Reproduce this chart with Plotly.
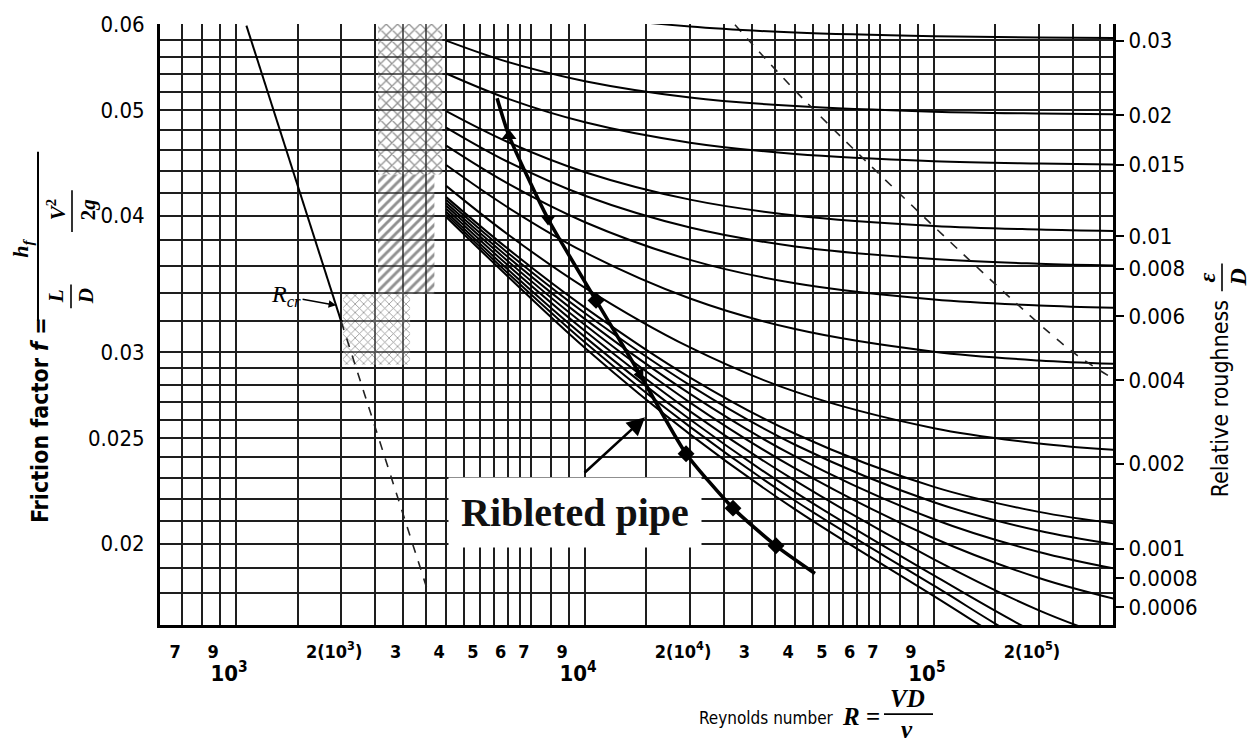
import math
import plotly.graph_objects as go

# ---------------- values ----------------
# Reynolds numbers at which the turbulent curves were read
RE_TURB = [4000, 6000, 10000, 20000, 40000, 100000, 200000, 350000]

# friction factor of each relative-roughness curve at RE_TURB
F_ED_0030 = [0.06516, 0.06300, 0.06114, 0.05967, 0.05892, 0.05846, 0.05830, 0.05823]
F_ED_0020 = [0.05793, 0.05538, 0.05317, 0.05137, 0.05044, 0.04985, 0.04966, 0.04958]
F_ED_0015 = [0.05404, 0.05124, 0.04874, 0.04669, 0.04559, 0.04490, 0.04467, 0.04456]
F_ED_0010 = [0.04990, 0.04675, 0.04386, 0.04139, 0.04003, 0.03915, 0.03886, 0.03873]
F_ED_0008 = [0.04820, 0.04484, 0.04173, 0.03902, 0.03749, 0.03650, 0.03615, 0.03600]
F_ED_0006 = [0.04639, 0.04283, 0.03946, 0.03644, 0.03468, 0.03351, 0.03309, 0.03291]
F_ED_0004 = [0.04453, 0.04073, 0.03702, 0.03358, 0.03148, 0.03001, 0.02946, 0.02923]
F_ED_0002 = [0.04261, 0.03847, 0.03435, 0.03028, 0.02758, 0.02553, 0.02472, 0.02435]
F_ED_0001 = [0.04161, 0.03732, 0.03294, 0.02841, 0.02523, 0.02255, 0.02139, 0.02082]
F_ED_00008 = [0.04135, 0.03700, 0.03255, 0.02795, 0.02465, 0.02183, 0.02055, 0.01991]
F_ED_00006 = [0.04110, 0.03668, 0.03215, 0.02745, 0.02405, 0.02106, 0.01965, 0.01890]
F_ED_00004 = [0.04085, 0.03636, 0.03175, 0.02695, 0.02345, 0.02023, 0.01860, 0.01771]
F_ED_00002 = [0.04060, 0.03604, 0.03135, 0.02645, 0.02285, 0.01935, 0.01737, 0.01623]
F_ED_00001 = [0.04035, 0.03572, 0.03095, 0.02600, 0.02230, 0.01870, 0.01650, 0.01520]
F_ED_000005 = [0.04012, 0.03545, 0.03060, 0.02560, 0.02190, 0.01830, 0.01600, 0.01470]
F_SMOOTH = [0.03990, 0.03520, 0.03025, 0.02520, 0.02150, 0.01790, 0.01560, 0.01420]

# laminar line (solid) and its dashed continuation
RE_LAMINAR = [1070, 2000]
F_LAMINAR = [0.0598, 0.0320]
RE_LAMINAR_DASH = [2000, 3560]
F_LAMINAR_DASH = [0.0320, 0.0180]

# dashed limit of the rough (complete turbulence) zone
RE_ROUGH_LIMIT = [26900, 43250, 172900, 256800, 323600]
F_ROUGH_LIMIT = [0.0599, 0.0508, 0.0332, 0.0298, 0.0284]

# ribleted pipe line and its measured points
RE_RIBLET = [5596, 6055, 7834, 10753, 14380, 19480, 26550, 35270, 45600]
F_RIBLET = [0.05128, 0.04737, 0.03973, 0.03345, 0.02860, 0.02419, 0.02156, 0.01991, 0.01878]
RE_RIBLET_PTS = [6055, 7834, 10753, 14380, 19480, 26550, 35270]
F_RIBLET_PTS = [0.04737, 0.03973, 0.03345, 0.02860, 0.02419, 0.02156, 0.01991]
RIBLET_SYMBOLS = ["triangle-up", "triangle-down", "diamond", "triangle-left", "diamond", "diamond", "diamond"]

# hatched critical zone (Re range, f range)
RE_ZONE_TOP = [2552, 3900]
F_ZONE_TOP = [0.04365, 0.0600]
RE_ZONE_MID = [2552, 3700]
F_ZONE_MID = [0.0339, 0.04365]
RE_ZONE_LOW = [2026, 3152]
F_ZONE_LOW = [0.0292, 0.0339]

# axes
X_RANGE = [605, 326000]
Y_RANGE = [0.01684, 0.0600]
X_TICK_VALS = [700, 900, 1000, 2000, 3000, 4000, 5000, 6000, 7000, 9000, 10000,
               20000, 30000, 40000, 50000, 60000, 70000, 90000, 100000, 200000]
X_TICK_TEXT = ["7", "9", "<br><span style='font-size:22px'>10<sup>3</sup></span>", "2(10<sup>3</sup>)",
               "3", "4", "5", "6", "7", "9", "<br><span style='font-size:22px'>10<sup>4</sup></span>",
               "2(10<sup>4</sup>)", "3", "4", "5", "6", "7", "9",
               "<br><span style='font-size:22px'>10<sup>5</sup></span>", "2(10<sup>5</sup>)"]
X_GRID_VALS = [700, 800, 900, 1000, 1500, 2000, 2500, 3000, 3500, 4000, 4500, 5000, 5500,
               6000, 6500, 7000, 8000, 9000, 10000, 15000, 20000, 25000, 30000, 35000, 40000,
               45000, 50000, 55000, 60000, 65000, 70000, 80000, 90000, 100000, 150000,
               200000, 250000, 300000]
Y_TICK_VALS = [0.02, 0.025, 0.03, 0.04, 0.05, 0.06]
Y_TICK_TEXT = ["0.02", "0.025", "0.03", "0.04", "0.05", "0.06"]
Y_GRID_VALS = [0.018, 0.019, 0.020, 0.021, 0.022, 0.023, 0.024, 0.025, 0.026, 0.027, 0.028,
               0.029, 0.030, 0.032, 0.034, 0.036, 0.038, 0.040, 0.042, 0.044, 0.046, 0.048,
               0.050, 0.052, 0.054, 0.056, 0.058]
ROUGH_TICK_F = [0.05791, 0.04950, 0.04457, 0.03834, 0.03577, 0.03236, 0.02824, 0.02369,
                0.01979, 0.01858, 0.01749]
ROUGH_TICK_TEXT = ["0.03", "0.02", "0.015", "0.01", "0.008", "0.006", "0.004", "0.002",
                   "0.001", "0.0008", "0.0006"]

CURVES = [F_ED_0030, F_ED_0020, F_ED_0015, F_ED_0010, F_ED_0008, F_ED_0006, F_ED_0004,
          F_ED_0002, F_ED_0001, F_ED_00008, F_ED_00006, F_ED_00004, F_ED_00002,
          F_ED_00001, F_ED_000005, F_SMOOTH]

# ---------------- figure ----------------
W, H = 1256, 742
ML, MR, MT, MB = 160, 143, 18, 117
PW, PH = W - ML - MR, H - MT - MB

NARROW = "DejaVu Sans Condensed, Liberation Sans Narrow, Arial Narrow, sans-serif"
SERIF = "Liberation Serif, DejaVu Serif, serif"


def px(x):
    return (x - ML) / PW


def py(y):
    return (H - MB - y) / PH


fig = go.Figure()

# hatched transition zone
for rx, fy, shape, size, sol in [(RE_ZONE_TOP, F_ZONE_TOP, "x", 8, 0.3),
                                 (RE_ZONE_MID, F_ZONE_MID, "/", 7, 0.42),
                                 (RE_ZONE_LOW, F_ZONE_LOW, "x", 6, 0.25)]:
    fig.add_trace(go.Scatter(
        x=[rx[0], rx[1], rx[1], rx[0], rx[0]],
        y=[fy[0], fy[0], fy[1], fy[1], fy[0]],
        mode="lines", line=dict(width=0), fill="toself",
        fillcolor="rgba(0,0,0,0)",
        fillpattern=dict(shape=shape, fgcolor="#222", bgcolor="rgba(255,255,255,0.3)",
                         size=size, solidity=sol),
        hoverinfo="skip", showlegend=False))

# roughness curves
for i, fv in enumerate(CURVES):
    fig.add_trace(go.Scatter(
        x=RE_TURB, y=fv, mode="lines", line=dict(color="black", width=2.0, shape="spline"),
        yaxis="y2" if i == 0 else "y", showlegend=False, hoverinfo="skip"))

# laminar
fig.add_trace(go.Scatter(x=RE_LAMINAR, y=F_LAMINAR, mode="lines",
                         line=dict(color="black", width=2), showlegend=False))
fig.add_trace(go.Scatter(x=RE_LAMINAR_DASH, y=F_LAMINAR_DASH, mode="lines",
                         line=dict(color="#222", width=1.6, dash="dash"), showlegend=False))
# rough-zone limit
fig.add_trace(go.Scatter(x=RE_ROUGH_LIMIT, y=F_ROUGH_LIMIT, mode="lines",
                         line=dict(color="#222", width=1.6, dash="dash", shape="spline"),
                         showlegend=False))
# ribleted pipe
fig.add_trace(go.Scatter(x=RE_RIBLET, y=F_RIBLET, mode="lines",
                         line=dict(color="black", width=3.6, shape="spline", smoothing=0.6),
                         showlegend=False))
fig.add_trace(go.Scatter(x=RE_RIBLET_PTS, y=F_RIBLET_PTS, mode="markers",
                         marker=dict(color="black", size=13, symbol=RIBLET_SYMBOLS),
                         showlegend=False))

grid = dict(showgrid=True, gridcolor="#1e1e1e", gridwidth=2, ticks="")

fig.update_layout(
    width=W, height=H,
    margin=dict(l=ML, r=MR, t=MT, b=MB),
    paper_bgcolor="white", plot_bgcolor="white",
    showlegend=False,
    xaxis=dict(type="log", range=[math.log10(X_RANGE[0]), math.log10(X_RANGE[1])],
               tickmode="array", tickvals=X_TICK_VALS, ticktext=X_TICK_TEXT, tickangle=0,
               showgrid=False, ticks="", ticklabelshift=-7, ticklabelstandoff=8,
               minor=dict(tickmode="array", tickvals=X_GRID_VALS, **grid),
               showline=True, linecolor="black", linewidth=3,
               tickfont=dict(family=NARROW, size=18, color="black", weight="bold"),
               zeroline=False),
    yaxis=dict(type="log", range=[math.log10(Y_RANGE[0]), math.log10(Y_RANGE[1])],
               tickmode="array", tickvals=Y_TICK_VALS, ticktext=Y_TICK_TEXT,
               showgrid=False, ticks="", ticklabelstandoff=8,
               minor=dict(tickmode="array", tickvals=Y_GRID_VALS, **grid),
               showline=True, linecolor="black", linewidth=3,
               tickfont=dict(family=NARROW, size=22, color="black"),
               zeroline=False),
    yaxis2=dict(type="log", range=[math.log10(Y_RANGE[0]), math.log10(Y_RANGE[1])],
                overlaying="y", side="right", anchor="x",
                tickmode="array", tickvals=ROUGH_TICK_F, ticktext=ROUGH_TICK_TEXT,
                showgrid=False, ticks="outside", ticklen=8, tickwidth=2, tickcolor="black",
                showline=True, linecolor="black", linewidth=3,
                tickfont=dict(family=NARROW, size=22, color="black"),
                zeroline=False),
)


def label(xp, yp, text, family, size, angle=0, weight="normal", xanchor="center"):
    return dict(xref="paper", yref="paper", x=px(xp), y=py(yp), text=text, textangle=angle,
                showarrow=False, xanchor=xanchor, yanchor="middle",
                font=dict(family=family, size=size, color="black", weight=weight))


ann = []
# Ribleted pipe label on white box
ann.append(dict(xref="paper", yref="paper", x=px(575), y=py(511), text="<b>Ribleted pipe</b>",
                showarrow=False, font=dict(family=SERIF, size=40, color="#111"),
                bgcolor="white", borderpad=12, xanchor="center", yanchor="middle"))
# arrow to the ribleted line
ann.append(dict(x=math.log10(14860), y=math.log10(0.02613), xref="x", yref="y", text="",
                showarrow=True, ax=-62, ay=57, arrowhead=2, arrowsize=1.4, arrowwidth=2.6,
                arrowcolor="black"))
# R_cr
ann.append(dict(x=math.log10(1934), y=math.log10(0.0331), xref="x", yref="y",
                text="<i>R<sub>cr</sub></i>", showarrow=True, ax=-50, ay=-9,
                arrowhead=2, arrowsize=1, arrowwidth=1.5, arrowcolor="black",
                font=dict(family=SERIF, size=24, color="black")))
# left axis title
ann.append(label(40, 418, "Friction factor <i>f</i> =", NARROW, 23, -90, "bold"))
ann.append(label(22, 245, "<i>h<sub>f</sub></i>", SERIF, 22, -90, "bold"))
ann.append(label(56, 293, "<i>L</i>", SERIF, 21, -90, "bold"))
ann.append(label(86, 293, "<i>D</i>", SERIF, 21, -90, "bold"))
ann.append(label(56, 206, "<i>V</i><sup>2</sup>", SERIF, 21, -90, "bold"))
ann.append(label(88, 206, "2<i>g</i>", SERIF, 21, -90, "bold"))
# right axis title
ann.append(label(1220, 397, "Relative roughness", NARROW, 23, -90))
ann.append(label(1207, 274, "<i>ε</i>", SERIF, 24, -90, "bold"))
ann.append(label(1238, 274, "<i>D</i>", SERIF, 24, -90, "bold"))
# bottom axis title
ann.append(label(836, 719, "Reynolds number", NARROW, 17, 0, "normal", "right"))
ann.append(label(861, 717, "<i>R</i> =", SERIF, 25, 0, "bold"))
ann.append(label(907, 699, "<i>VD</i>", SERIF, 25, 0, "bold"))
ann.append(label(907, 731, "<i>ν</i>", SERIF, 25, 0, "bold"))
fig.update_layout(annotations=ann)

shapes = [
    dict(type="line", xref="paper", yref="paper", x0=px(38), x1=px(38), y0=py(147), y1=py(318),
         line=dict(color="black", width=2)),
    dict(type="line", xref="paper", yref="paper", x0=px(71), x1=px(71), y0=py(281), y1=py(305),
         line=dict(color="black", width=1.6)),
    dict(type="line", xref="paper", yref="paper", x0=px(72), x1=px(72), y0=py(186), y1=py(228),
         line=dict(color="black", width=1.6)),
    dict(type="line", xref="paper", yref="paper", x0=px(1222), x1=px(1222), y0=py(260), y1=py(288),
         line=dict(color="black", width=1.6)),
    dict(type="line", xref="paper", yref="paper", x0=px(884), x1=px(933), y0=py(715), y1=py(715),
         line=dict(color="black", width=1.6)),
]
fig.update_layout(shapes=shapes)

fig.write_html("out.html")
